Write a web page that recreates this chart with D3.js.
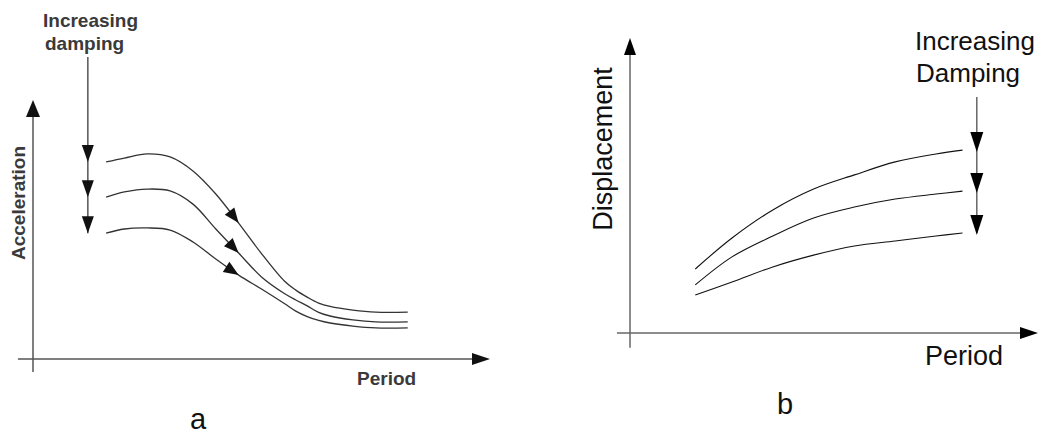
<!DOCTYPE html>
<html>
<head>
<meta charset="utf-8">
<script src="https://cdn.jsdelivr.net/npm/d3@7"></script>
<style>
  body { margin: 0; background: #fff; }
  svg { display: block; }
</style>
</head>
<body>
<svg id="chart"></svg>
<script>
// panel a : acceleration spectra
const periodA = [1.6, 2.0, 2.5, 3.0, 3.5, 4.0, 4.5, 5.0, 5.5, 5.75, 6.0, 6.25, 6.5, 7.0, 7.5, 8.2];
const accelDamp1 = [7.61, 7.76, 7.92, 7.80, 7.26, 6.37, 5.25, 4.07, 3.01, 2.66, 2.39, 2.16, 2.03, 1.89, 1.81, 1.81];
const accelDamp2 = [6.25, 6.45, 6.56, 6.49, 5.98, 5.02, 4.09, 3.17, 2.53, 2.28, 2.05, 1.80, 1.66, 1.51, 1.43, 1.43];
const accelDamp3 = [4.86, 5.02, 5.06, 4.98, 4.52, 3.86, 3.24, 2.70, 2.14, 1.85, 1.64, 1.49, 1.39, 1.27, 1.20, 1.20];

// panel b : displacement spectra
const periodB = [1.6, 2.5, 3.5, 4.5, 5.5, 6.5, 7.5, 8.15];
const dispDamp1 = [2.17, 3.22, 4.17, 4.88, 5.36, 5.80, 6.07, 6.20];
const dispDamp2 = [1.63, 2.58, 3.29, 3.90, 4.27, 4.54, 4.71, 4.81];
const dispDamp3 = [1.29, 1.73, 2.24, 2.64, 2.95, 3.12, 3.29, 3.39];

const svgWidth = 1051
const svgHeight = 436

const svg = d3.select("#chart")
  .attr("width", svgWidth)
  .attr("height", svgHeight);

// draws a filled triangle, tip at (x, y), pointing along angle (degrees, 0 = right)
function arrowHead(g, x, y, angle, len, hw, fill) {
  g.append("path")
    .attr("d", `M0,0 L${-len},${-hw} L${-len},${hw} Z`)
    .attr("transform", `translate(${x},${y}) rotate(${angle})`)
    .attr("fill", fill);
}

// put an arrowhead on a drawn path where it reaches x = px
function arrowOnPath(g, pathNode, px, len, hw, fill) {
  const total = pathNode.getTotalLength();
  let lo = 0, hi = total;
  for (let i = 0; i < 40; i++) {
    const mid = (lo + hi) / 2;
    if (pathNode.getPointAtLength(mid).x < px) lo = mid; else hi = mid;
  }
  const p = pathNode.getPointAtLength(lo);
  const p0 = pathNode.getPointAtLength(Math.max(0, lo - 2));
  const p1 = pathNode.getPointAtLength(Math.min(total, lo + 2));
  const ang = Math.atan2(p1.y - p0.y, p1.x - p0.x) * 180 / Math.PI;
  arrowHead(g, p.x, p.y, ang, len, hw, fill);
}

// ---------- panel a ----------
const xA = d3.scaleLinear().domain([0, 10]).range([33, 490]);
const yA = d3.scaleLinear().domain([0, 10]).range([359, 100]);
const gA = svg.append("g");
const axisA = "#555";

gA.append("line")
  .attr("x1", xA(-0.33)).attr("x2", xA(10) - 10)
  .attr("y1", yA(0)).attr("y2", yA(0))
  .attr("stroke", axisA).attr("stroke-width", 1.5);
arrowHead(gA, xA(10), yA(0), 0, 18, 6, "#111");

gA.append("line")
  .attr("x1", xA(0)).attr("x2", xA(0))
  .attr("y1", yA(-0.5)).attr("y2", yA(10) + 10)
  .attr("stroke", axisA).attr("stroke-width", 1.5);
arrowHead(gA, xA(0), yA(10), -90, 17, 7, "#111");

const lineA = d3.line()
  .x((d, i) => xA(periodA[i]))
  .y(d => yA(d))
  .curve(d3.curveCatmullRom);

[accelDamp1, accelDamp2, accelDamp3].forEach(s => {
  const p = gA.append("path")
    .attr("d", lineA(s))
    .attr("fill", "none")
    .attr("stroke", "#333")
    .attr("stroke-width", 1.3);
  arrowOnPath(gA, p.node(), xA(4.5), 15, 6, "#111");
});

// increasing damping arrow
const dampXA = xA(1.2);
gA.append("line")
  .attr("x1", dampXA).attr("x2", dampXA)
  .attr("y1", 57).attr("y2", yA(accelDamp3[0]))
  .attr("stroke", axisA).attr("stroke-width", 1.5);
[accelDamp1, accelDamp2, accelDamp3].forEach(s => {
  arrowHead(gA, dampXA, yA(s[0]), 90, 17, 6, "#111");
});

gA.append("text")
  .attr("x", 43).attr("y", 27)
  .attr("font-family", "Liberation Sans, Arial, sans-serif")
  .attr("font-size", 19).attr("font-weight", "bold")
  .attr("fill", "#3a3a3a")
  .text("Increasing");
gA.append("text")
  .attr("x", 45).attr("y", 50)
  .attr("font-family", "Liberation Sans, Arial, sans-serif")
  .attr("font-size", 19).attr("font-weight", "bold")
  .attr("fill", "#3a3a3a")
  .text("damping");

gA.append("text")
  .attr("transform", "translate(25,203) rotate(-90)")
  .attr("text-anchor", "middle")
  .attr("font-family", "Liberation Sans, Arial, sans-serif")
  .attr("font-size", 19).attr("font-weight", "bold")
  .attr("fill", "#3a3a3a")
  .text("Acceleration");

gA.append("text")
  .attr("x", 357).attr("y", 385)
  .attr("font-family", "Liberation Sans, Arial, sans-serif")
  .attr("font-size", 19).attr("font-weight", "bold")
  .attr("fill", "#3a3a3a")
  .text("Period");

svg.append("text")
  .attr("x", 190).attr("y", 429)
  .attr("font-family", "Liberation Sans, Arial, sans-serif")
  .attr("font-size", 29)
  .attr("fill", "#111")
  .text("a");

// ---------- panel b ----------
const xB = d3.scaleLinear().domain([0, 10]).range([630, 1038]);
const yB = d3.scaleLinear().domain([0, 10]).range([333, 38]);
const gB = svg.append("g");
const axisB = "#666";

gB.append("line")
  .attr("x1", xB(-0.32)).attr("x2", xB(10) - 10)
  .attr("y1", yB(0)).attr("y2", yB(0))
  .attr("stroke", axisB).attr("stroke-width", 1.5);
arrowHead(gB, xB(10), yB(0), 0, 18, 6, "#000");

gB.append("line")
  .attr("x1", xB(0)).attr("x2", xB(0))
  .attr("y1", yB(-0.5)).attr("y2", yB(10) + 10)
  .attr("stroke", axisB).attr("stroke-width", 1.5);
arrowHead(gB, xB(0), yB(10), -90, 17, 6, "#000");

const lineB = d3.line()
  .x((d, i) => xB(periodB[i]))
  .y(d => yB(d))
  .curve(d3.curveCatmullRom);

[dispDamp1, dispDamp2, dispDamp3].forEach(s => {
  gB.append("path")
    .attr("d", lineB(s))
    .attr("fill", "none")
    .attr("stroke", "#111")
    .attr("stroke-width", 1.1);
});

const dampXB = xB(8.5);
const lastB = periodB.length - 1;
gB.append("line")
  .attr("x1", dampXB).attr("x2", dampXB)
  .attr("y1", 97).attr("y2", yB(dispDamp3[lastB]))
  .attr("stroke", axisB).attr("stroke-width", 1.5);
[dispDamp1, dispDamp2, dispDamp3].forEach(s => {
  arrowHead(gB, dampXB, yB(s[lastB]) + 2, 90, 20, 6.5, "#000");
});

gB.append("text")
  .attr("x", 915).attr("y", 50)
  .attr("font-family", "Liberation Sans, Arial, sans-serif")
  .attr("font-size", 26)
  .attr("fill", "#111")
  .text("Increasing");
gB.append("text")
  .attr("x", 916).attr("y", 82)
  .attr("font-family", "Liberation Sans, Arial, sans-serif")
  .attr("font-size", 26)
  .attr("fill", "#111")
  .text("Damping");

gB.append("text")
  .attr("transform", "translate(612,149) rotate(-90)")
  .attr("text-anchor", "middle")
  .attr("font-family", "Liberation Sans, Arial, sans-serif")
  .attr("font-size", 27)
  .attr("fill", "#111")
  .text("Displacement");

gB.append("text")
  .attr("x", 925).attr("y", 365)
  .attr("font-family", "Liberation Sans, Arial, sans-serif")
  .attr("font-size", 27)
  .attr("fill", "#111")
  .text("Period");

svg.append("text")
  .attr("x", 777).attr("y", 414)
  .attr("font-family", "Liberation Sans, Arial, sans-serif")
  .attr("font-size", 29)
  .attr("fill", "#111")
  .text("b");
</script>
</body>
</html>
